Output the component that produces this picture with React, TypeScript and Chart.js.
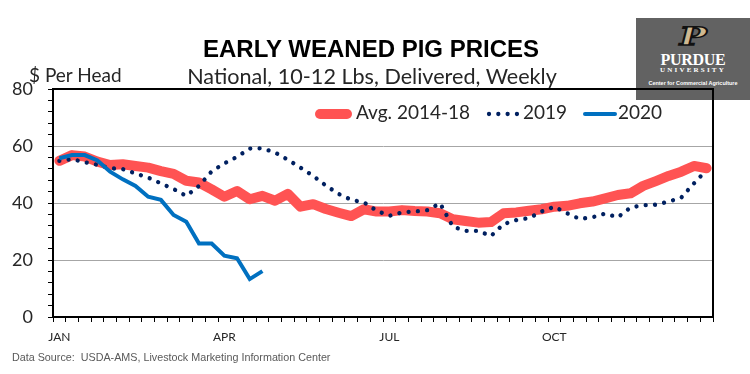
import React, { useEffect, useRef } from 'react';
import { Chart, registerables } from 'chart.js';

Chart.register(...registerables);

// Week numbers (categories)
const weeks = [
  1, 2, 3, 4, 5, 6, 7, 8, 9, 10, 11, 12, 13, 14, 15, 16, 17, 18, 19, 20, 21, 22, 23, 24, 25, 26,
  27, 28, 29, 30, 31, 32, 33, 34, 35, 36, 37, 38, 39, 40, 41, 42, 43, 44, 45, 46, 47, 48, 49, 50, 51, 52,
];

// Month tick labels by category index
const monthTickIndex = [0, 13, 26, 39];
const monthTickLabel = ['JAN', 'APR', 'JUL', 'OCT'];

// Avg. 2014-18
const avg2014to18 = [
  54.8, 56.8, 56.3, 54.5, 53.3, 53.6, 53.0, 52.4, 51.2, 50.2, 47.8, 47.2, 44.8, 42.2, 44.2, 41.3,
  42.5, 40.8, 43.2, 38.7, 39.6, 37.9, 36.6, 35.4, 37.8, 37.0, 37.0, 37.5, 37.2, 37.0, 36.4, 34.3,
  33.7, 33.1, 33.3, 36.4, 36.7, 37.3, 37.8, 38.7, 39.0, 39.9, 40.5, 41.6, 42.8, 43.4, 46.0, 47.7,
  49.5, 51.0, 53.0, 52.2,
];

// 2019
const y2019 = [
  54.8, 55.4, 54.3, 53.4, 52.2, 51.9, 50.4, 48.9, 46.9, 44.9, 42.5, 46.0, 51.1, 53.9, 56.2, 59.1,
  59.2, 57.7, 55.2, 52.4, 49.5, 46.1, 43.2, 41.1, 40.2, 37.3, 35.5, 36.7, 37.0, 37.5, 39.9, 31.7,
  30.2, 30.2, 28.4, 32.6, 34.0, 34.7, 37.0, 38.7, 36.4, 34.4, 35.0, 36.3, 35.0, 38.4, 39.2, 39.4,
  40.5, 41.9, 46.9, 51.6,
];

// 2020
const y2020 = [
  55.7, 56.8, 56.8, 54.9, 51.0, 48.3, 46.0, 42.2, 41.1, 35.8, 33.4, 25.8, 25.8, 21.5, 20.6, 13.3, 16.1,
];

const seriesNames = ['Avg. 2014-18', '2019', '2020'];

const RED = '#FF5353';
const NAVY = '#002060';
const BLUE = '#0070C0';
const TEXT = '#262626';
const DOT_DASH = [0.01, 9.3];

const framePlugin = {
  id: 'frame',
  afterDatasetsDraw(chart: any) {
    const { ctx, chartArea } = chart;
    ctx.save();
    ctx.strokeStyle = '#000';
    ctx.lineWidth = 2;
    ctx.strokeRect(chartArea.left, chartArea.top, chartArea.right - chartArea.left, chartArea.bottom - chartArea.top);
    ctx.restore();
  },
};

const legendPlugin = {
  id: 'inlineLegend',
  afterDraw(chart: any) {
    const ctx = chart.ctx;
    const y = 114;
    ctx.save();
    ctx.lineCap = 'round';
    // Avg
    ctx.strokeStyle = RED;
    ctx.lineWidth = 10;
    ctx.beginPath();
    ctx.moveTo(320, y);
    ctx.lineTo(347, y);
    ctx.stroke();
    // 2019
    ctx.strokeStyle = NAVY;
    ctx.lineWidth = 4.3;
    ctx.setLineDash(DOT_DASH);
    ctx.beginPath();
    ctx.moveTo(489, y);
    ctx.lineTo(520, y);
    ctx.stroke();
    ctx.setLineDash([]);
    // 2020
    ctx.strokeStyle = BLUE;
    ctx.lineWidth = 4;
    ctx.beginPath();
    ctx.moveTo(585, y);
    ctx.lineTo(615, y);
    ctx.stroke();

    ctx.fillStyle = TEXT;
    ctx.font = '19px Lato';
    ctx.textBaseline = 'middle';
    ctx.textAlign = 'left';
    ctx.fillText(seriesNames[0], 356, y - 1);
    ctx.fillText(seriesNames[1], 523, y - 1);
    ctx.fillText(seriesNames[2], 618, y - 1);
    ctx.restore();
  },
};

export default function App() {
  const canvasRef = useRef<HTMLCanvasElement | null>(null);

  useEffect(() => {
    if (!canvasRef.current) return;
    const chart = new Chart(canvasRef.current, {
      type: 'line',
      data: {
        labels: weeks,
        datasets: [
          {
            label: seriesNames[2],
            data: y2020,
            borderColor: BLUE,
            borderWidth: 4,
            pointRadius: 0,
            tension: 0,
            fill: false,
            order: 1,
          },
          {
            label: seriesNames[1],
            data: y2019,
            borderColor: NAVY,
            borderWidth: 4.3,
            borderDash: DOT_DASH,
            borderCapStyle: 'round',
            pointRadius: 0,
            tension: 0,
            fill: false,
            order: 2,
          },
          {
            label: seriesNames[0],
            data: avg2014to18,
            borderColor: RED,
            borderWidth: 10,
            borderJoinStyle: 'round',
            borderCapStyle: 'round',
            pointRadius: 0,
            tension: 0,
            fill: false,
            order: 3,
          },
        ],
      },
      options: {
        responsive: false,
        animation: false,
        layout: { padding: { left: 0, top: 89, right: 37, bottom: 27 } },
        plugins: {
          legend: { display: false },
          title: { display: false },
          tooltip: { enabled: false },
        },
        scales: {
          x: {
            type: 'category',
            offset: true,
            grid: {
              offset: true,
              drawOnChartArea: false,
              drawTicks: true,
              tickLength: 5,
              tickColor: '#000',
              color: '#000',
              lineWidth: 1,
            },
            border: { display: true, color: '#000', width: 2 },
            ticks: {
              autoSkip: false,
              maxRotation: 0,
              minRotation: 0,
              padding: 8,
              color: TEXT,
              font: { family: 'Lato', size: 12 },
              callback: (_v: any, idx: number) => {
                const k = monthTickIndex.indexOf(idx);
                return k >= 0 ? monthTickLabel[k] : '';
              },
            },
            afterFit: (s: any) => {
              s.height = 30;
            },
          },
          y: {
            type: 'linear',
            min: 0,
            max: 80,
            grid: {
              drawOnChartArea: true,
              drawTicks: true,
              tickLength: 5,
              tickColor: '#000',
              color: (c: any) => {
                const v = c.tick ? c.tick.value : -1;
                return v % 20 === 0 && v > 0 && v < 80 ? '#A6A6A6' : 'rgba(0,0,0,0)';
              },
              lineWidth: 1,
            },
            border: { display: true, color: '#000', width: 2 },
            ticks: {
              stepSize: 4,
              autoSkip: false,
              padding: 15,
              color: TEXT,
              font: { family: 'Lato', size: 18 },
              callback: (v: any) => (Number(v) % 20 === 0 ? String(v) : ''),
            },
            afterFit: (s: any) => {
              s.width = 53;
            },
          },
        },
      },
      plugins: [framePlugin, legendPlugin],
    });
    return () => chart.destroy();
  }, []);

  return (
    <div
      style={{
        position: 'fixed',
        left: 0,
        top: 0,
        width: 750,
        height: 374,
        background: '#fff',
        overflow: 'hidden',
        fontFamily: 'Lato, sans-serif',
      }}
    >
      {/* Purdue logo block */}
      <div
        style={{
          position: 'absolute',
          left: 636,
          top: 18,
          width: 114,
          height: 82,
          background: '#626262',
        }}
      >
        <div
          style={{
            position: 'absolute',
            left: 0,
            width: 114,
            top: 5,
            textAlign: 'center',
            fontFamily: '"DejaVu Serif", serif',
            fontWeight: 'bold',
            fontSize: 25,
            lineHeight: '28px',
            color: '#CFB991',
            WebkitTextStroke: '1.5px #111',
            transform: 'skewX(-14deg) scaleX(1.45)',
          }}
        >
          P
        </div>
        <div
          style={{
            position: 'absolute',
            left: 0,
            width: 114,
            top: 34,
            textAlign: 'center',
            fontFamily: '"Liberation Serif", serif',
            fontWeight: 'bold',
            fontSize: 16,
            lineHeight: '16px',
            color: '#fff',
            letterSpacing: -0.3,
          }}
        >
          PURDUE
        </div>
        <div
          style={{
            position: 'absolute',
            left: 0,
            width: 114,
            top: 48,
            textAlign: 'center',
            fontFamily: '"Liberation Serif", serif',
            fontWeight: 'bold',
            fontSize: 7,
            lineHeight: '8px',
            color: '#fff',
            letterSpacing: 2.2,
          }}
        >
          UNIVERSITY
        </div>
        <div
          style={{
            position: 'absolute',
            left: -20,
            width: 154,
            top: 61,
            textAlign: 'center',
            fontFamily: '"Liberation Sans", Arial, sans-serif',
            fontWeight: 'bold',
            fontSize: 8,
            lineHeight: '9px',
            color: '#fff',
            transform: 'scale(0.68)',
            whiteSpace: 'nowrap',
          }}
        >
          Center for Commercial Agriculture
        </div>
      </div>

      <canvas
        ref={canvasRef}
        width={750}
        height={374}
        style={{ position: 'absolute', left: 0, top: 0, width: 750, height: 374 }}
      />

      <div
        style={{
          position: 'absolute',
          left: 0,
          width: 742,
          top: 35,
          textAlign: 'center',
          fontFamily: '"Liberation Sans", Arial, sans-serif',
          fontWeight: 'bold',
          fontSize: 24,
          lineHeight: '28px',
          color: '#000',
          whiteSpace: 'nowrap',
        }}
      >
        EARLY WEANED PIG PRICES
      </div>
      <div
        style={{
          position: 'absolute',
          left: 0,
          width: 744,
          top: 63,
          textAlign: 'center',
          fontFamily: 'Lato, sans-serif',
          fontSize: 21.6,
          lineHeight: '26px',
          color: TEXT,
          whiteSpace: 'nowrap',
        }}
      >
        National, 10-12 Lbs, Delivered, Weekly
      </div>
      <div
        style={{
          position: 'absolute',
          left: 29,
          top: 63,
          fontFamily: 'Lato, sans-serif',
          fontSize: 19,
          lineHeight: '24px',
          color: TEXT,
          whiteSpace: 'nowrap',
        }}
      >
        $ Per Head
      </div>
      <div
        style={{
          position: 'absolute',
          left: 12,
          top: 350,
          fontFamily: '"Liberation Sans", Arial, sans-serif',
          fontSize: 10.75,
          lineHeight: '14px',
          color: '#595959',
          whiteSpace: 'nowrap',
        }}
      >
        Data Source:&nbsp; USDA-AMS, Livestock Marketing Information Center
      </div>
    </div>
  );
}
